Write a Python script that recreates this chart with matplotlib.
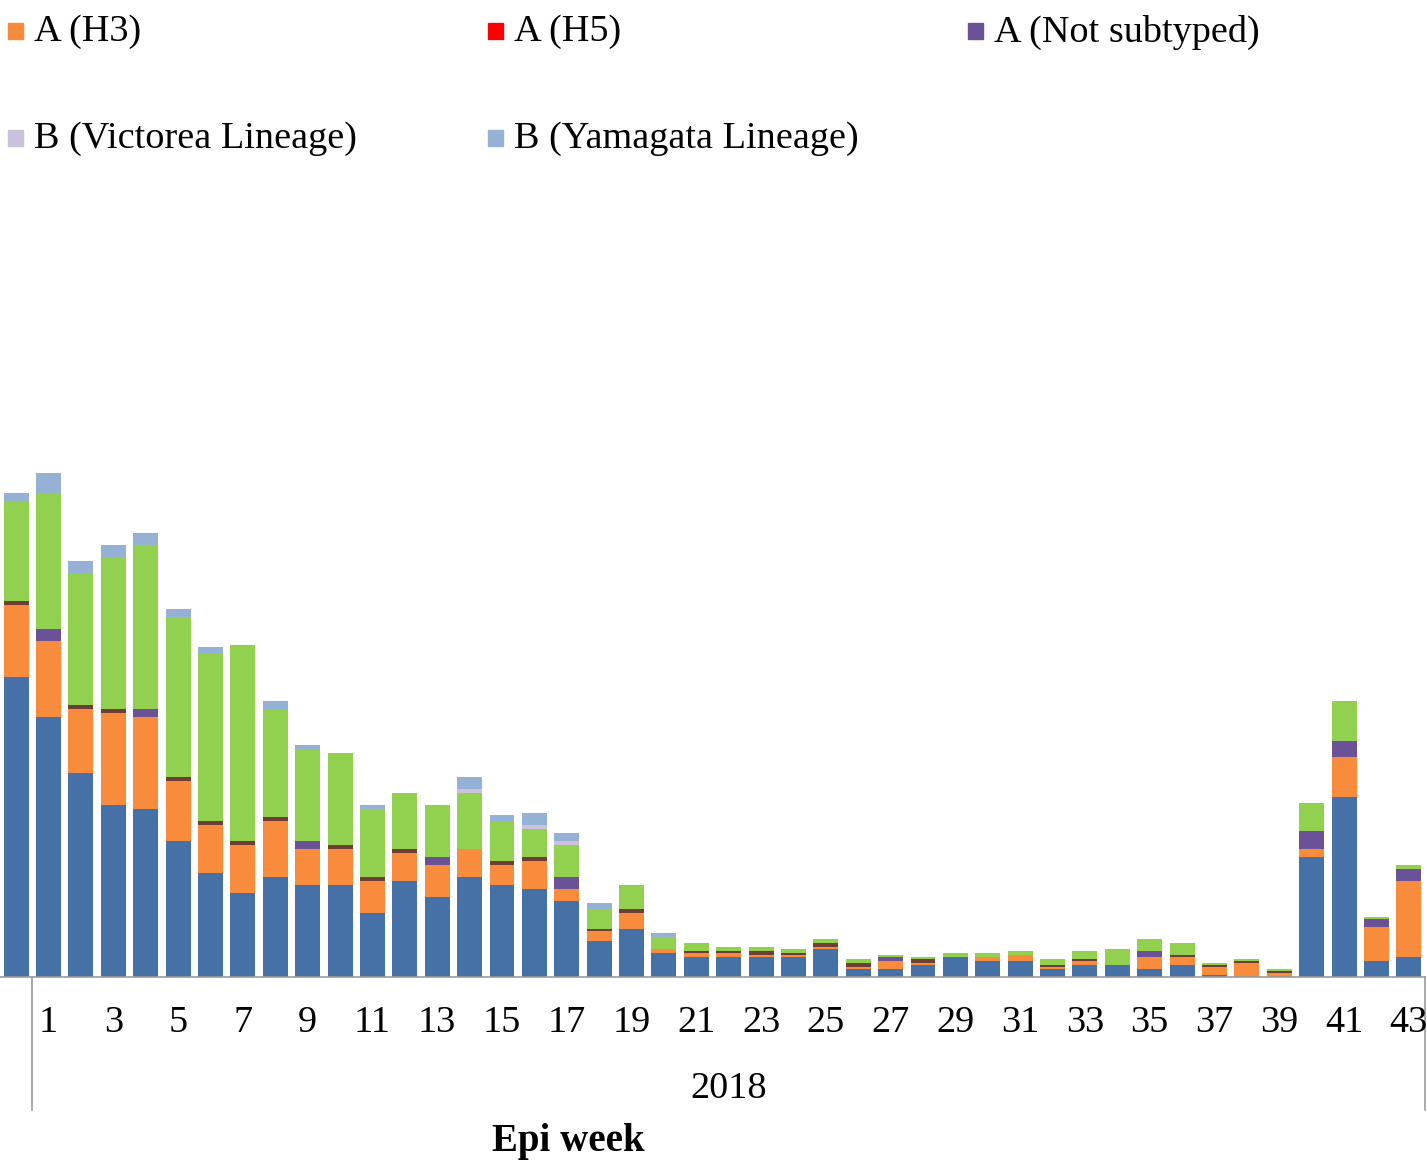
import numpy as np
import matplotlib

matplotlib.use("Agg")
import matplotlib.pyplot as plt
from matplotlib.patches import Rectangle
from matplotlib.transforms import blended_transform_factory

# epi weeks: 0 = last week of 2017, then 1..43 of 2018
weeks = list(range(0, 44))
tick_weeks = list(range(1, 44, 2))

a_h1n1 = [75, 65, 51, 43, 42, 34, 26, 21, 25, 23, 23, 16, 24, 20, 25, 23, 22, 19, 9, 12, 6, 5,
          5, 5, 5, 7, 2, 2, 3, 5, 4, 4, 2, 3, 3, 2, 3, 0.5, 0, 0, 30, 45, 4, 5]
a_h3 = [18, 19, 16, 23, 23, 15, 12, 12, 14, 9, 9, 8, 7, 8, 7, 5, 7, 3, 2.5, 4, 1, 1,
        1, 0.5, 0.5, 0.5, 0.5, 2, 0.5, 0, 1, 1.5, 0.5, 1, 0, 3, 2, 2, 3.5, 1, 2, 10, 8.5, 19]
a_h5 = [0] * 44
a_h1 = [1, 0, 1, 1, 0, 1, 1, 1, 1, 0, 1, 1, 1, 0, 0, 1, 1, 0, 0.5, 1, 0, 0.5,
        0.5, 1, 0.5, 1, 1, 0, 1, 0, 0, 0, 0.5, 0.5, 0, 0, 0.5, 0.5, 0.5, 0.5, 0, 0, 0, 0]
a_not_sub = [0, 3, 0, 0, 2, 0, 0, 0, 0, 2, 0, 0, 0, 2, 0, 0, 0, 3, 0, 0, 0, 0,
             0, 0, 0, 0, 0, 1, 0, 0, 0, 0, 0, 0, 0, 1.5, 0, 0, 0, 0, 4.5, 4, 2, 3]
b_not_det = [25, 34, 33, 38, 41, 40, 42, 49, 27, 23, 23, 17, 14, 13, 14, 10, 7, 8, 5, 6, 3, 2,
             1, 1, 1, 1, 1, 0.5, 0.5, 1, 1, 1, 1.5, 2, 4, 3, 3, 0.5, 0.5, 0.5, 7, 10, 0.5, 1]
b_victoria = [0, 0, 0, 0, 0, 0, 0, 0, 0, 0, 0, 0, 0, 0, 1, 0, 1, 1, 0, 0, 0, 0,
              0, 0, 0, 0, 0, 0, 0, 0, 0, 0, 0, 0, 0, 0, 0, 0, 0, 0, 0, 0, 0, 0]
b_yamagata = [2, 5, 3, 3, 3, 2, 1.5, 0, 2, 1, 0, 1, 0, 0, 3, 1.5, 3, 2, 1.5, 0, 1, 0,
              0, 0, 0, 0, 0, 0, 0, 0, 0, 0, 0, 0, 0, 0, 0, 0, 0, 0, 0, 0, 0, 0]

series = [
    ("A (H1N1)pdm09", a_h1n1, "#4571A6"),
    ("A (H3)", a_h3, "#F88B3C"),
    ("A (H5)", a_h5, "#FF0000"),
    ("A (H1)", a_h1, "#6E3D33"),
    ("A (Not subtyped)", a_not_sub, "#6B5195"),
    ("B (Lineage not determined)", b_not_det, "#92D050"),
    ("B (Victorea Lineage)", b_victoria, "#CCC1DA"),
    ("B (Yamagata Lineage)", b_yamagata, "#95B1D6"),
]
legend_rows = [
    ["A (H3)", "A (H5)", "A (Not subtyped)"],
    ["B (Victorea Lineage)", "B (Yamagata Lineage)"],
]

plt.rcParams["font.family"] = ["Liberation Serif", "DejaVu Serif"]
FS = 27.5

W, H = 1427, 1162
fig = plt.figure(figsize=(W / 100, H / 100), dpi=100)
base_px = 977
top_px = 200
ax = fig.add_axes([0, (H - base_px) / H, 1425 / W, (base_px - top_px) / H])

bottom = np.zeros(len(weeks))
for name, vals, color in series:
    vals = np.array(vals, dtype=float)
    ax.bar(weeks, vals, bottom=bottom, width=0.77, color=color, linewidth=0)
    bottom += vals

ax.set_xlim(-0.5, 43.5)
ax.set_ylim(0, (base_px - top_px) / 4)
for s in ["top", "right", "left"]:
    ax.spines[s].set_visible(False)
ax.spines["bottom"].set_color("#9A9A9A")
ax.spines["bottom"].set_linewidth(1.2)
ax.set_yticks([])
ax.set_xticks([])

# multi-level category axis
trans = blended_transform_factory(ax.transData, fig.transFigure)
for w in tick_weeks:
    ax.text(w, 1 - 1023 / H, str(w), transform=trans, ha="center", va="center",
            fontsize=FS, clip_on=False)
for xs in [0.5, 43.5]:
    ax.plot([xs, xs], [1 - base_px / H, 1 - 1110 / H], transform=trans,
            color="#9A9A9A", linewidth=1.2, clip_on=False)
ax.text(22, 1 - 1089 / H, "2018", transform=trans, ha="center", va="center",
        fontsize=FS, clip_on=False)
fig.text(568 / W, 1 - 1142 / H, "Epi week", ha="center", va="center",
         fontsize=FS + 0.5, fontweight="bold")

# legend (only the visible part of the original)
colors = {name: color for name, _, color in series}
col_x = [8, 488, 968]
row_y = [31, 138]
for r, row in enumerate(legend_rows):
    for c, name in enumerate(row):
        x0 = col_x[c]
        yc = row_y[r]
        fig.add_artist(Rectangle((x0 / W, 1 - (yc + 8) / H), 15 / W, 16 / H,
                                 transform=fig.transFigure, color=colors[name]))
        fig.text((x0 + 26) / W, 1 - (yc + 1) / H, name, ha="left", va="center", fontsize=FS)

fig.savefig("out.png", dpi=100)
